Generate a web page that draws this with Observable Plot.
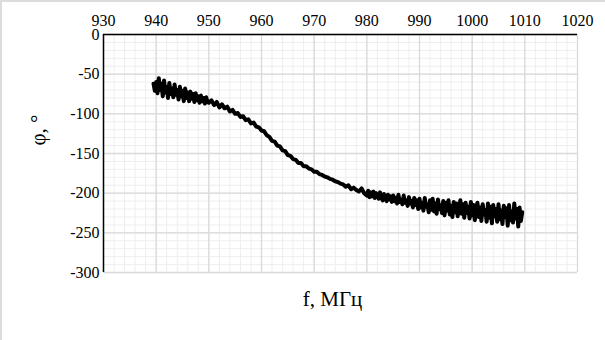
<!DOCTYPE html>
<html>
<head>
<meta charset="utf-8">
<script src="https://cdn.jsdelivr.net/npm/d3@7"></script>
<script src="https://cdn.jsdelivr.net/npm/@observablehq/plot@0.6"></script>
<style>
  html, body { margin: 0; padding: 0; background: #fff; }
  #wrap { position: relative; width: 605px; height: 340px; }
  #border { position: absolute; left: 0; top: 0; width: 603px; height: 338px; border-left: 2px solid #dcdcdc; border-top: 2px solid #dcdcdc; pointer-events: none; }
  svg text { font-family: 'Liberation Serif', 'Times New Roman', serif; }
</style>
</head>
<body>
<div id="wrap"><div id="border"></div></div>
<script>
const xTicks = [930, 940, 950, 960, 970, 980, 990, 1000, 1010, 1020];
const yTicks = [0, -50, -100, -150, -200, -250, -300];

// Frequency samples (MHz)
const freqA = [
  939.5, 939.75,
  940, 940.25, 940.5, 940.75, 941, 941.25, 941.5, 941.75, 942, 942.25, 942.5, 942.75,
  943, 943.25, 943.5, 943.75, 944, 944.25, 944.5, 944.75, 945, 945.25, 945.5, 945.75,
  946, 946.25, 946.5, 946.75, 947, 947.25, 947.5, 947.75, 948, 948.25, 948.5, 948.75,
  949, 949.25, 949.5, 949.75
];
const phaseA = [
  -62, -71,
  -60, -74, -55, -70, -62, -78, -58, -73, -66, -80, -61, -75,
  -68, -79, -63, -76, -70, -82, -66, -78, -71, -84, -68, -80,
  -73, -84, -72, -81, -75, -85, -74, -83, -78, -86, -77, -84,
  -80, -87, -79, -85
];
const freqB = [
  950, 950.5, 951, 951.5, 952, 952.5, 953, 953.5, 954, 954.5, 955, 955.5, 956, 956.5, 957, 957.5, 958, 958.5, 959, 959.5,
  960, 960.5, 961, 961.5, 962, 962.5, 963, 963.5, 964, 964.5, 965, 965.5, 966, 966.5, 967, 967.5, 968, 968.5, 969, 969.5,
  970, 970.5, 971, 971.5, 972, 972.5, 973, 973.5, 974, 974.5, 975, 975.5, 976, 976.5, 977, 977.5, 978, 978.5, 979, 979.5
];
const phaseB = [
  -86, -83, -89, -85, -92, -88, -93, -91, -97, -95, -100, -99, -104, -103, -108, -107, -112, -111, -116, -117,
  -121, -122, -127, -129, -134, -135, -140, -141, -146, -147, -152, -153, -157, -158, -162, -162, -166, -166, -169, -170,
  -173, -173, -176, -177, -179, -180, -182, -183, -185, -186, -188, -189, -192, -190, -195, -193, -196, -198, -194, -200
];
const freqC = [
  980, 980.25, 980.5, 980.75, 981, 981.25, 981.5, 981.75, 982, 982.25, 982.5, 982.75, 983, 983.25, 983.5, 983.75,
  984, 984.25, 984.5, 984.75, 985, 985.25, 985.5, 985.75, 986, 986.25, 986.5, 986.75, 987, 987.25, 987.5, 987.75,
  988, 988.25, 988.5, 988.75, 989, 989.25, 989.5, 989.75, 990, 990.25, 990.5, 990.75, 991, 991.25, 991.5, 991.75,
  992, 992.25, 992.5, 992.75, 993, 993.25, 993.5, 993.75, 994, 994.25, 994.5, 994.75, 995, 995.25, 995.5, 995.75,
  996, 996.25, 996.5, 996.75, 997, 997.25, 997.5, 997.75, 998, 998.25, 998.5, 998.75, 999, 999.25, 999.5, 999.75,
  1000, 1000.25, 1000.5, 1000.75, 1001, 1001.25, 1001.5, 1001.75, 1002, 1002.25, 1002.5, 1002.75,
  1003, 1003.25, 1003.5, 1003.75, 1004, 1004.25, 1004.5, 1004.75, 1005, 1005.25, 1005.5, 1005.75,
  1006, 1006.25, 1006.5, 1006.75, 1007, 1007.25, 1007.5, 1007.75, 1008, 1008.25, 1008.5, 1008.75,
  1009, 1009.25, 1009.5
];
const phaseC = [
  -203, -197, -205, -199, -204, -198, -206, -200, -203, -207, -199, -205, -209, -201, -206, -210,
  -202, -208, -204, -211, -203, -210, -206, -213, -202, -211, -208, -214, -203, -212, -209, -216,
  -205, -213, -210, -218, -206, -215, -209, -220, -207, -218, -212, -222, -206, -217, -214, -224,
  -209, -221, -207, -223, -213, -226, -208, -220, -215, -225, -210, -228, -212, -222, -209, -227,
  -216, -230, -211, -224, -213, -229, -218, -209, -226, -214, -231, -212, -225, -217, -232, -211,
  -228, -215, -234, -220, -212, -230, -218, -235, -214, -227, -221, -236,
  -213, -231, -217, -238, -215, -229, -220, -236, -214, -233, -222, -239,
  -216, -230, -219, -241, -215, -234, -223, -237, -213, -232, -220, -242,
  -218, -235, -224
];

const freq = [...freqA, ...freqB, ...freqC];
const phase = [...phaseA, ...phaseB, ...phaseC];
const data = freq.map((f, i) => ({f, p: phase[i]}));
const minorX = d3.range(930, 1020.01, 2);
const minorY = d3.range(-300, 0.01, 10);
const font = "'Liberation Serif', 'Times New Roman', serif";

const chart = Plot.plot({
  width: 605,
  height: 340,
  marginLeft: 103,
  marginRight: 28,
  marginTop: 34,
  marginBottom: 68,
  style: {fontFamily: font, fontSize: "16px", color: "#000", background: "transparent"},
  x: {domain: [930, 1020]},
  y: {domain: [-300, 0]},
  marks: [
    Plot.ruleX(minorX, {stroke: "#eeeeee", strokeWidth: 1}),
    Plot.ruleY(minorY, {stroke: "#eeeeee", strokeWidth: 1}),
    Plot.ruleX(xTicks, {stroke: "#d9d9d9", strokeWidth: 1.3}),
    Plot.ruleY(yTicks, {stroke: "#d9d9d9", strokeWidth: 1.3}),
    Plot.ruleY([0], {stroke: "#000", strokeWidth: 1.5}),
    Plot.ruleX([930], {stroke: "#000", strokeWidth: 1.5}),
    Plot.axisX({anchor: "top", ticks: xTicks, tickSize: 0, tickPadding: 9, label: null, tickFormat: d => String(d), fontSize: 16, fontFamily: font}),
    Plot.axisY({anchor: "left", ticks: yTicks, tickSize: 0, tickPadding: 4, label: null, tickFormat: d => String(d), fontSize: 16, fontFamily: font}),
    Plot.line(data, {x: "f", y: "p", stroke: "#000", strokeWidth: 4, strokeLinejoin: "round"}),
    Plot.text(["f, МГц"], {frameAnchor: "bottom", dy: 33, dx: -8, fontSize: 21, fill: "#000", fontFamily: font}),
    Plot.text(["φ, °"], {frameAnchor: "left", dx: -65, dy: -8, rotate: -90, fontSize: 21, fill: "#000", fontFamily: font})
  ]
});
document.getElementById("wrap").prepend(chart);
</script>
</body>
</html>
